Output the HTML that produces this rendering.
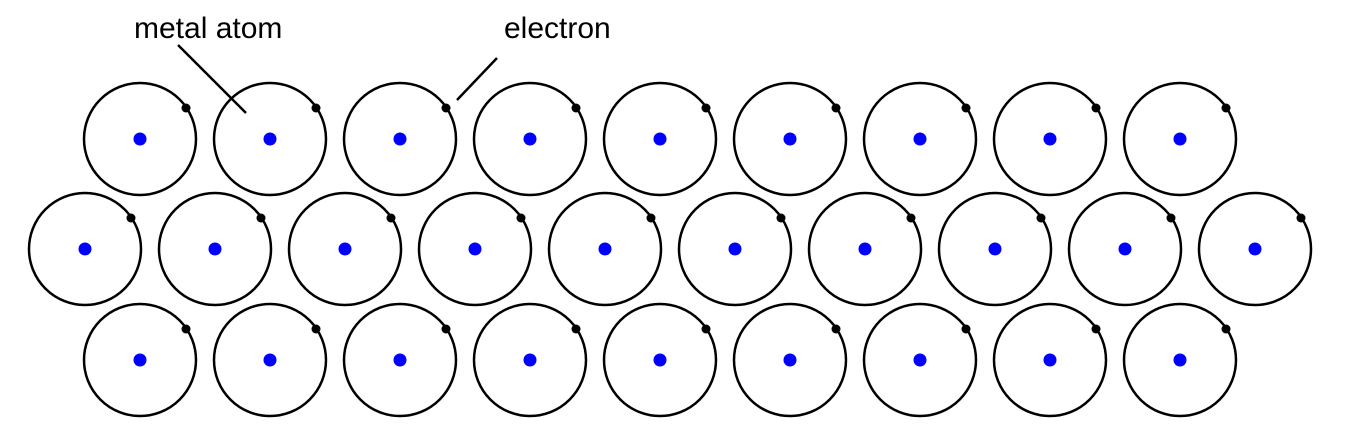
<!DOCTYPE html>
<html><head><style>body{margin:0;background:#fff}</style></head><body>
<svg width="1350" height="441" xmlns="http://www.w3.org/2000/svg">
<defs>
<g id="a">
<circle cx="0" cy="0" r="56" fill="none" stroke="#000" stroke-width="2.5"/>
<circle cx="0" cy="0" r="6.5" fill="#0000ff"/>
<circle cx="46" cy="-31" r="4.5" fill="#000"/>
</g>
</defs>
<g font-family="Liberation Sans, sans-serif" font-size="30" fill="#000">
<text x="134" y="38">metal atom</text>
<text x="504" y="38">electron</text>
</g>
<line x1="178" y1="45" x2="246" y2="113" stroke="#000" stroke-width="2.5"/>
<line x1="457" y1="100" x2="497" y2="58" stroke="#000" stroke-width="2.5"/>
<use href="#a" x="140" y="139"/><use href="#a" x="270" y="139"/><use href="#a" x="400" y="139"/><use href="#a" x="530" y="139"/><use href="#a" x="660" y="139"/><use href="#a" x="790" y="139"/><use href="#a" x="920" y="139"/><use href="#a" x="1050" y="139"/><use href="#a" x="1180" y="139"/>
<use href="#a" x="85" y="249"/><use href="#a" x="215" y="249"/><use href="#a" x="345" y="249"/><use href="#a" x="475" y="249"/><use href="#a" x="605" y="249"/><use href="#a" x="735" y="249"/><use href="#a" x="865" y="249"/><use href="#a" x="995" y="249"/><use href="#a" x="1125" y="249"/><use href="#a" x="1255" y="249"/>
<use href="#a" x="140" y="360"/><use href="#a" x="270" y="360"/><use href="#a" x="400" y="360"/><use href="#a" x="530" y="360"/><use href="#a" x="660" y="360"/><use href="#a" x="790" y="360"/><use href="#a" x="920" y="360"/><use href="#a" x="1050" y="360"/><use href="#a" x="1180" y="360"/>
</svg>
</body></html>
